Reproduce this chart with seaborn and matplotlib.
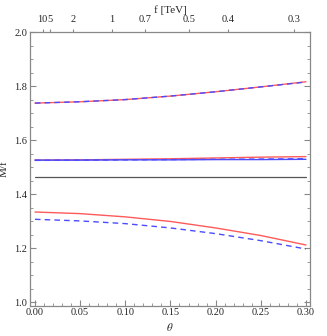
import numpy as np
import pandas as pd
import matplotlib
matplotlib.use("Agg")
import matplotlib.pyplot as plt
import seaborn as sns
from matplotlib.ticker import MultipleLocator

# theta grid and M/f curves
theta = [0.00, 0.05, 0.10, 0.15, 0.20, 0.25, 0.30]
top_red = [1.737, 1.742, 1.750, 1.763, 1.779, 1.797, 1.816]
top_blue = [1.737, 1.742, 1.750, 1.763, 1.779, 1.797, 1.815]
mid_red = [1.526, 1.527, 1.529, 1.531, 1.534, 1.537, 1.539]
mid_blue = [1.526, 1.526, 1.527, 1.527, 1.528, 1.528, 1.529]
mid_blue_dash = [1.525, 1.526, 1.527, 1.528, 1.529, 1.530, 1.531]
flat_gray = [1.463, 1.463, 1.463, 1.463, 1.463, 1.463, 1.463]
low_red = [1.334, 1.328, 1.316, 1.299, 1.275, 1.247, 1.212]
low_blue = [1.307, 1.301, 1.291, 1.275, 1.254, 1.228, 1.197]

# top axis: f in TeV
f_ticks = [10, 5, 2, 1, 0.7, 0.5, 0.4, 0.3]
f_labels = ["10", "5", "2", "1", "0.7", "0.5", "0.4", "0.3"]

sns.set_style("ticks")
plt.rcParams["font.family"] = ["Liberation Serif", "DejaVu Serif"]
plt.rcParams["mathtext.fontset"] = "stix"

fig = plt.figure(figsize=(3.27, 3.36), dpi=100)
ax = fig.add_axes([30 / 327, 1 - 305.5 / 336, 280 / 327, 274 / 336])

red = "#ff5a5a"
blue = "#4b4bff"
gray = "#555555"
dash = (0, (4, 3))

sns.lineplot(x=theta, y=top_red, ax=ax, color=red, lw=1.0)
sns.lineplot(x=theta, y=top_blue, ax=ax, color=blue, lw=1.0, linestyle=dash)
sns.lineplot(x=theta, y=mid_red, ax=ax, color=red, lw=1.0)
sns.lineplot(x=theta, y=mid_blue, ax=ax, color=blue, lw=1.0)
sns.lineplot(x=theta, y=mid_blue_dash, ax=ax, color=blue, lw=1.0, linestyle=dash)
sns.lineplot(x=theta, y=flat_gray, ax=ax, color=gray, lw=0.9)
sns.lineplot(x=theta, y=low_red, ax=ax, color=red, lw=1.0)
sns.lineplot(x=theta, y=low_blue, ax=ax, color=blue, lw=1.0, linestyle=dash)

ax.set_xlim(-0.0055, 0.3045)
ax.set_ylim(0.988, 2.002)
ax.xaxis.set_major_locator(MultipleLocator(0.05))
ax.xaxis.set_minor_locator(MultipleLocator(0.01))
ax.yaxis.set_major_locator(MultipleLocator(0.2))
ax.yaxis.set_minor_locator(MultipleLocator(0.05))
ax.xaxis.set_major_formatter(matplotlib.ticker.FormatStrFormatter("%.2f"))
ax.yaxis.set_major_formatter(matplotlib.ticker.FormatStrFormatter("%.1f"))
ax.tick_params(which="both", direction="in", color="#888888", labelsize=7.5,
               right=True, top=False, pad=2)
ax.tick_params(which="major", length=4)
ax.tick_params(which="minor", length=2)
for s in ax.spines.values():
    s.set_color("#888888")
    s.set_linewidth(0.9)
ax.set_xlabel(r"$\theta$", fontsize=8, labelpad=3)
ax.set_ylabel("M/f", fontsize=8, labelpad=4)

# f ticks along the top, theta = arcsin(c / f)
c = 0.085
ax2 = ax.twiny()
ax2.set_xlim(ax.get_xlim())
ax2.set_xticks(np.arcsin(c / np.array(f_ticks)))
ax2.set_xticklabels(f_labels)
ax2.tick_params(direction="out", color="#888888", labelsize=7.5, length=2.5, pad=3)
for s in ax2.spines.values():
    s.set_visible(False)
ax2.set_xlabel("f [TeV]", fontsize=8, labelpad=1)

fig.savefig("out.png", dpi=100)
